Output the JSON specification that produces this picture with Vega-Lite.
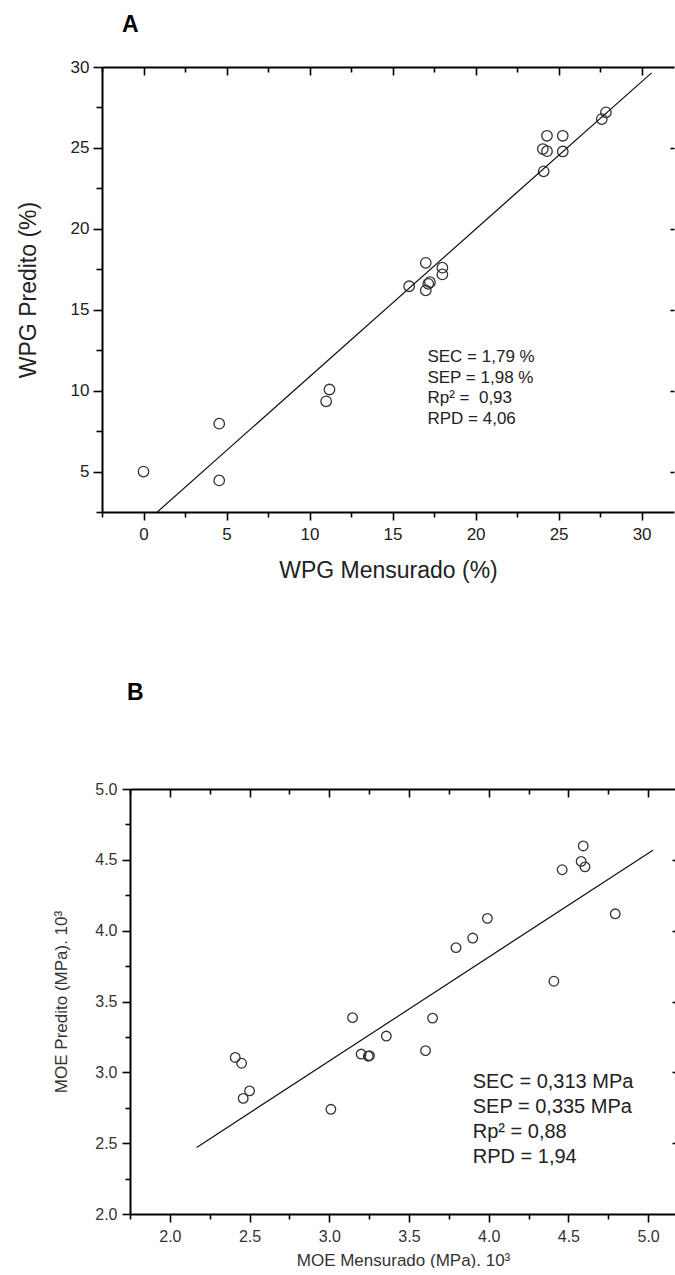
{
  "$schema": "https://vega.github.io/schema/vega-lite/v6.json",
  "padding": {"left": 0, "top": 14, "right": 0, "bottom": 0},
  "background": "white",
  "config": {
    "view": {"stroke": null},
    "font": "Liberation Sans",
    "axis": {"grid": false, "domainColor": "#000", "domainWidth": 2, "tickColor": "#000", "tickWidth": 1.6, "labelColor": "#222", "titleColor": "#222", "labelFont": "Liberation Sans", "titleFont": "Liberation Sans", "titleFontWeight": "normal", "labelFlush": false, "labelOverlap": false, "labelBound": false}
  },
  "columns": 1,
  "spacing": 100,
  "concat": [
    {
      "hconcat": [
        {"width": 17, "height": 1, "data": {"values": []}, "mark": "point", "view": {"stroke": null}},
        {
          "width": 572,
          "height": 445,
          "title": {"text": "A", "anchor": "start", "frame": "group", "dx": 20, "offset": 3, "baseline": "alphabetic", "fontSize": 23, "fontWeight": "bold", "color": "#000"},
          "data": {"values": [
            {"mx": 0.0, "py": 5.0}, {"mx": 4.56, "py": 7.96}, {"mx": 4.56, "py": 4.45},
            {"mx": 11.0, "py": 9.34}, {"mx": 11.2, "py": 10.07}, {"mx": 16.0, "py": 16.45},
            {"mx": 17.0, "py": 17.9}, {"mx": 17.0, "py": 16.2}, {"mx": 17.15, "py": 16.6},
            {"mx": 17.25, "py": 16.7}, {"mx": 18.0, "py": 17.6}, {"mx": 18.0, "py": 17.18},
            {"mx": 24.1, "py": 23.55}, {"mx": 24.05, "py": 24.93}, {"mx": 24.3, "py": 24.8},
            {"mx": 24.3, "py": 25.75}, {"mx": 25.25, "py": 25.75}, {"mx": 25.25, "py": 24.78},
            {"mx": 27.6, "py": 26.78}, {"mx": 27.85, "py": 27.2}
          ]},
          "layer": [
            {
              "mark": {"type": "point", "shape": "circle", "filled": false, "size": 110, "stroke": "#333", "strokeWidth": 1.3, "opacity": 1},
              "encoding": {
                "x": {"field": "mx", "type": "quantitative", "scale": {"domain": [-2.5, 31.95], "nice": false, "zero": false},
                  "axis": {"orient": "bottom", "values": [-2.5, 0, 2.5, 5, 7.5, 10, 12.5, 15, 17.5, 20, 22.5, 25, 27.5, 30], "format": "d",
                    "labelExpr": "datum.value % 5 === 0 ? datum.label : ''",
                    "tickSize": {"condition": {"test": "datum.value % 5 === 0", "value": 8}, "value": 5},
                    "labelFontSize": 17, "labelPadding": 6, "title": "WPG Mensurado (%)", "titleFontSize": 23, "titlePadding": 17}},
                "y": {"field": "py", "type": "quantitative", "scale": {"domain": [2.5, 30], "nice": false, "zero": false},
                  "axis": {"orient": "left", "values": [2.5, 5, 7.5, 10, 12.5, 15, 17.5, 20, 22.5, 25, 27.5, 30], "format": "d",
                    "labelExpr": "datum.value % 5 === 0 ? datum.label : ''",
                    "tickSize": {"condition": {"test": "datum.value % 5 === 0", "value": 9}, "value": 6},
                    "labelFontSize": 17, "labelPadding": 4, "title": "WPG Predito (%)", "titleFontSize": 23, "titlePadding": 30}}
              }
            },
            {
              "data": {"values": [{"mx": 0.83, "py": 2.5}, {"mx": 30.6, "py": 29.64}]},
              "mark": {"type": "line", "color": "#111", "strokeWidth": 1.2},
              "encoding": {
                "x": {"field": "mx", "type": "quantitative", "scale": {"domain": [-2.5, 31.95], "nice": false, "zero": false},
                  "axis": {"orient": "top", "values": [-2.5, 0, 2.5, 5, 7.5, 10, 12.5, 15, 17.5, 20, 22.5, 25, 27.5, 30], "labels": false, "title": null,
                    "tickSize": {"condition": {"test": "datum.value % 5 === 0", "value": -8}, "value": -5}}},
                "y": {"field": "py", "type": "quantitative", "scale": {"domain": [2.5, 30], "nice": false, "zero": false},
                  "axis": {"orient": "right", "values": [5, 10, 15, 20, 25], "labels": false, "title": null, "domain": false, "tickSize": -4}}
              }
            },
            {
              "data": {"values": [{"panel": "A"}]},
              "mark": {"type": "text", "align": "left", "baseline": "top", "fontSize": 17, "lineHeight": 20.6, "color": "#222", "font": "Liberation Sans"},
              "encoding": {
                "x": {"datum": 17.1, "type": "quantitative", "scale": {"domain": [-2.5, 31.95], "nice": false, "zero": false}, "axis": null},
                "y": {"datum": 12.57, "type": "quantitative", "scale": {"domain": [2.5, 30], "nice": false, "zero": false}, "axis": null},
                "text": {"value": ["SEC = 1,79 %", "SEP = 1,98 %", "Rp² = \u00a00,93", "RPD = 4,06"]}
              }
            }
          ],
          "resolve": {"axis": {"x": "independent", "y": "independent"}}
        }
      ],
      "spacing": 0
    },
    {
      "hconcat": [
        {"width": 52, "height": 1, "data": {"values": []}, "mark": "point", "view": {"stroke": null}},
        {
          "width": 546,
          "height": 425,
          "title": {"text": "B", "anchor": "start", "frame": "group", "dx": -3, "offset": 58, "baseline": "alphabetic", "fontSize": 23, "fontWeight": "bold", "color": "#000"},
          "data": {"values": [
            {"mx": 2.41, "py": 3.105}, {"mx": 2.45, "py": 3.064}, {"mx": 2.46, "py": 2.816},
            {"mx": 2.5, "py": 2.869}, {"mx": 3.01, "py": 2.739}, {"mx": 3.146, "py": 3.386},
            {"mx": 3.2, "py": 3.129}, {"mx": 3.245, "py": 3.114}, {"mx": 3.252, "py": 3.118},
            {"mx": 3.358, "py": 3.256}, {"mx": 3.604, "py": 3.153}, {"mx": 3.648, "py": 3.383},
            {"mx": 3.795, "py": 3.88}, {"mx": 3.9, "py": 3.948}, {"mx": 3.992, "py": 4.087},
            {"mx": 4.409, "py": 3.643}, {"mx": 4.461, "py": 4.43}, {"mx": 4.58, "py": 4.489},
            {"mx": 4.593, "py": 4.598}, {"mx": 4.604, "py": 4.45}, {"mx": 4.794, "py": 4.119}
          ]},
          "layer": [
            {
              "mark": {"type": "point", "shape": "circle", "filled": false, "size": 92, "stroke": "#333", "strokeWidth": 1.3, "opacity": 1},
              "encoding": {
                "x": {"field": "mx", "type": "quantitative", "scale": {"domain": [1.75, 5.175], "nice": false, "zero": false},
                  "axis": {"orient": "bottom", "values": [1.75, 2, 2.25, 2.5, 2.75, 3, 3.25, 3.5, 3.75, 4, 4.25, 4.5, 4.75, 5], "format": ".1f",
                    "labelExpr": "abs(datum.value * 2 - round(datum.value * 2)) < 0.001 ? datum.label : ''",
                    "tickSize": {"condition": {"test": "abs(datum.value * 2 - round(datum.value * 2)) < 0.001", "value": 8}, "value": 5},
                    "labelFontSize": 16, "labelPadding": 6, "labelColor": "#333", "title": "MOE Mensurado (MPa). 10³", "titleFontSize": 17, "titleColor": "#333", "titlePadding": 8}},
                "y": {"field": "py", "type": "quantitative", "scale": {"domain": [2, 5], "nice": false, "zero": false},
                  "axis": {"orient": "left", "values": [2, 2.25, 2.5, 2.75, 3, 3.25, 3.5, 3.75, 4, 4.25, 4.5, 4.75, 5], "format": ".1f",
                    "labelExpr": "abs(datum.value * 2 - round(datum.value * 2)) < 0.001 ? datum.label : ''",
                    "tickSize": {"condition": {"test": "abs(datum.value * 2 - round(datum.value * 2)) < 0.001", "value": 8}, "value": 5},
                    "labelFontSize": 16, "labelPadding": 5, "labelColor": "#333", "title": "MOE Predito (MPa). 10³", "titleFontSize": 17, "titleColor": "#333", "titlePadding": 24}}
              }
            },
            {
              "data": {"values": [{"mx": 2.168, "py": 2.47}, {"mx": 5.03, "py": 4.568}]},
              "mark": {"type": "line", "color": "#111", "strokeWidth": 1.2},
              "encoding": {
                "x": {"field": "mx", "type": "quantitative", "scale": {"domain": [1.75, 5.175], "nice": false, "zero": false},
                  "axis": {"orient": "top", "values": [1.75, 2, 2.25, 2.5, 2.75, 3, 3.25, 3.5, 3.75, 4, 4.25, 4.5, 4.75, 5], "labels": false, "title": null,
                    "tickSize": {"condition": {"test": "abs(datum.value * 2 - round(datum.value * 2)) < 0.001", "value": -8}, "value": -5}}},
                "y": {"field": "py", "type": "quantitative", "scale": {"domain": [2, 5], "nice": false, "zero": false},
                  "axis": {"orient": "right", "values": [2.5, 3, 3.5, 4, 4.5], "labels": false, "title": null, "domain": false, "tickSize": -4}}
              }
            },
            {
              "data": {"values": [{"panel": "B"}]},
              "mark": {"type": "text", "align": "left", "baseline": "top", "fontSize": 20, "lineHeight": 25, "color": "#222", "font": "Liberation Sans"},
              "encoding": {
                "x": {"datum": 3.9, "type": "quantitative", "scale": {"domain": [1.75, 5.175], "nice": false, "zero": false}, "axis": null},
                "y": {"datum": 3.0, "type": "quantitative", "scale": {"domain": [2, 5], "nice": false, "zero": false}, "axis": null},
                "text": {"value": ["SEC = 0,313 MPa", "SEP = 0,335 MPa", "Rp² = 0,88", "RPD = 1,94"]}
              }
            }
          ],
          "resolve": {"axis": {"x": "independent", "y": "independent"}}
        }
      ],
      "spacing": 0
    }
  ]
}
